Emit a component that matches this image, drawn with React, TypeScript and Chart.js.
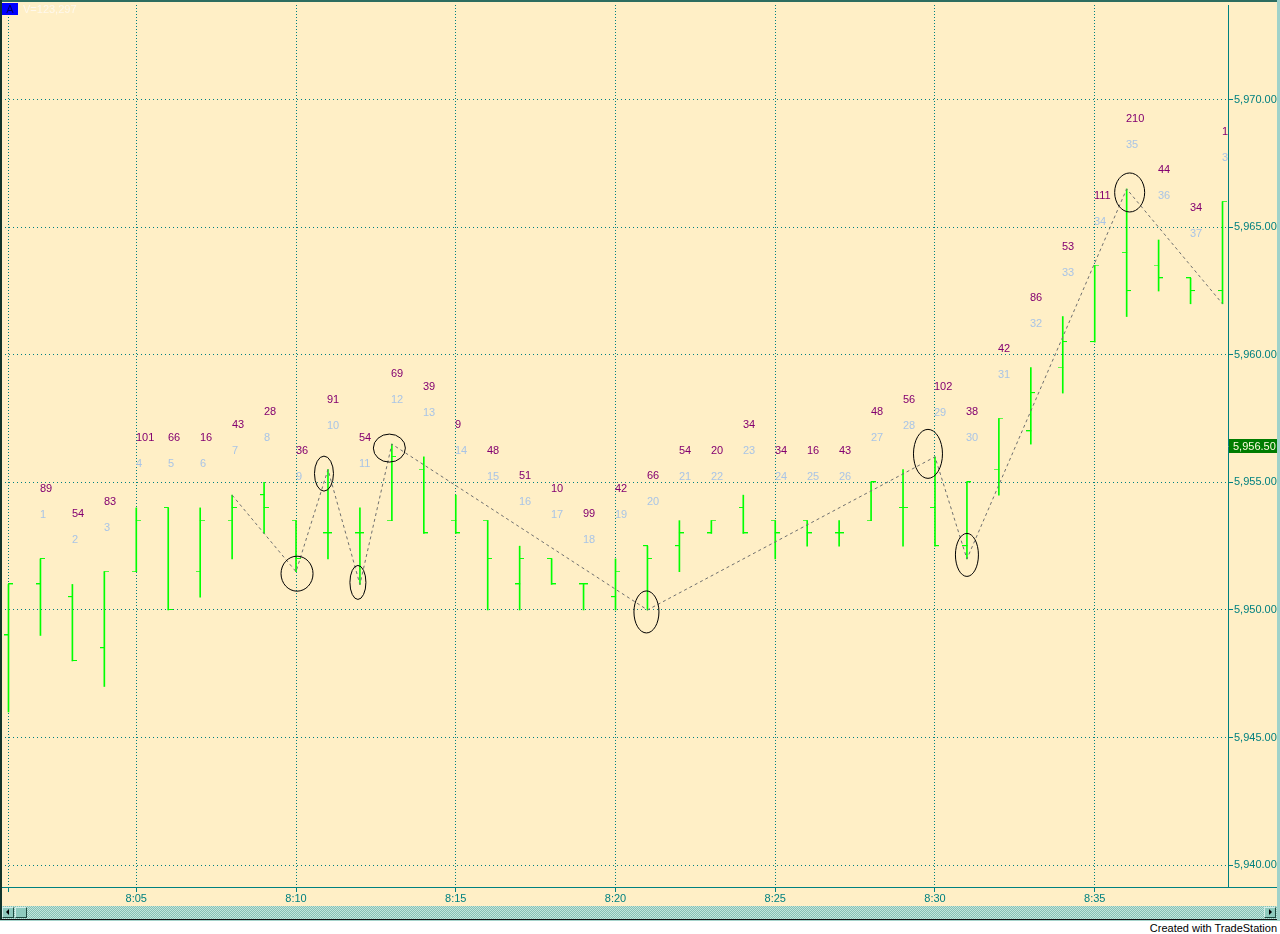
import React, { useEffect, useRef } from "react";
import { Chart, registerables } from "chart.js";

Chart.register(...registerables);

// ---------------- data ----------------
const times = [
  "8:01", "8:02", "8:03", "8:04", "8:05", "8:06", "8:07", "8:08", "8:09", "8:10",
  "8:11", "8:12", "8:13", "8:14", "8:15", "8:16", "8:17", "8:18", "8:19", "8:20",
  "8:21", "8:22", "8:23", "8:24", "8:25", "8:26", "8:27", "8:28", "8:29", "8:30",
  "8:31", "8:32", "8:33", "8:34", "8:35", "8:36", "8:37", "8:38", "8:39",
];
const opens = [
  5949.0, 5951.0, 5950.5, 5948.5, 5951.5, 5954.0, 5951.5, 5953.5, 5954.5, 5953.5,
  5953.0, 5953.0, 5953.5, 5955.5, 5953.5, 5953.5, 5951.0, 5952.0, 5951.0, 5950.5,
  5952.5, 5952.5, 5953.0, 5954.0, 5953.5, 5953.5, 5953.0, 5953.5, 5954.0, 5954.0,
  5952.5, 5955.5, 5957.0, 5959.5, 5960.5, 5964.0, 5963.5, 5963.0, 5962.5,
];
const highs = [
  5951.0, 5952.0, 5951.0, 5951.5, 5954.0, 5954.0, 5954.0, 5954.5, 5955.0, 5953.5,
  5955.5, 5954.0, 5956.5, 5956.0, 5954.5, 5953.5, 5952.5, 5952.0, 5951.0, 5952.0,
  5952.5, 5953.5, 5953.5, 5954.5, 5953.5, 5953.5, 5953.5, 5955.0, 5955.5, 5956.0,
  5955.0, 5957.5, 5959.5, 5961.5, 5963.5, 5966.5, 5964.5, 5963.0, 5966.0,
];
const lows = [
  5946.0, 5949.0, 5948.0, 5947.0, 5951.5, 5950.0, 5950.5, 5952.0, 5953.0, 5951.5,
  5952.0, 5951.0, 5953.5, 5953.0, 5953.0, 5950.0, 5950.0, 5951.0, 5950.0, 5950.0,
  5950.0, 5951.5, 5953.0, 5953.0, 5952.0, 5952.5, 5952.5, 5953.5, 5952.5, 5952.5,
  5952.0, 5954.5, 5956.5, 5958.5, 5960.5, 5961.5, 5962.5, 5962.0, 5962.0,
];
const closes = [
  5951.0, 5952.0, 5948.0, 5951.5, 5953.5, 5950.0, 5953.5, 5954.0, 5954.0, 5952.0,
  5953.0, 5953.0, 5956.0, 5953.0, 5953.0, 5952.0, 5952.0, 5951.0, 5951.0, 5951.5,
  5952.0, 5953.0, 5953.5, 5953.0, 5953.0, 5953.0, 5953.0, 5955.0, 5954.0, 5952.5,
  5955.0, 5957.5, 5958.5, 5960.5, 5963.5, 5962.5, 5963.0, 5962.5, 5966.0,
];
const volumeLabels = [
  null, "89", "54", "83", "101", "66", "16", "43", "28", "36",
  "91", "54", "69", "39", "9", "48", "51", "10", "99", "42",
  "66", "54", "20", "34", "34", "16", "43", "48", "56", "102",
  "38", "42", "86", "53", "111", "210", "44", "34", "128",
];
const barNumbers = [
  null, "1", "2", "3", "4", "5", "6", "7", "8", "9",
  "10", "11", "12", "13", "14", "15", "16", "17", "18", "19",
  "20", "21", "22", "23", "24", "25", "26", "27", "28", "29",
  "30", "31", "32", "33", "34", "35", "36", "37", "38",
];
const zigzagTimes = ["8:08", "8:10", "8:11", "8:12", "8:13", "8:21", "8:30", "8:31", "8:36", "8:39"];
const zigzagPrices = [5954.5, 5951.5, 5955.5, 5951.0, 5956.5, 5950.0, 5956.0, 5952.0, 5966.5, 5962.0];
const circledTimes = ["8:10", "8:11", "8:12", "8:13", "8:21", "8:30", "8:31", "8:36"];
const circledPrices = [5951.5, 5955.5, 5951.0, 5956.5, 5950.0, 5956.0, 5952.0, 5966.5];
const yTickValues = [5940, 5945, 5950, 5955, 5960, 5965, 5970];
const yTickLabels = ["5,940.00", "5,945.00", "5,950.00", "5,955.00", "5,960.00", "5,965.00", "5,970.00"];
const xTickTimes = ["8:01", "8:05", "8:10", "8:15", "8:20", "8:25", "8:30", "8:35"];
const xTickLabels = ["", "8:05", "8:10", "8:15", "8:20", "8:25", "8:30", "8:35"];
const lastPrice = 5956.5;
const lastPriceLabel = "5,956.50";
const symbolTag = "A";
const volumeTotal = "V=123,297";
const footerText = "Created with TradeStation";

// ---------------- styles ----------------
const CREAM = "#ffefc6";
const TEAL = "#008080";
const GREEN = "#00ff00";
const PURPLE = "#830070";
const LIGHTBLUE = "#a9c4e6";
const FONT_FAMILY = '"Liberation Sans", Arial, sans-serif';
const circleShapes = [
  { w: 32, h: 35, dx: 1, dy: 2 },
  { w: 19, h: 35, dx: -4, dy: 4 },
  { w: 16, h: 34, dx: -2, dy: -2 },
  { w: 32, h: 28, dx: -2.5, dy: 4 },
  { w: 25, h: 42, dx: -1, dy: 2 },
  { w: 29, h: 49, dx: -7, dy: -3 },
  { w: 23, h: 43, dx: 0, dy: -4 },
  { w: 30, h: 39, dx: 3, dy: 3.5 },
];

const toMin = (t: string) => {
  const [h, m] = t.split(":").map(Number);
  return (h - 8) * 60 + m;
};

// x: 32px per minute, 8:01 at 3.5px inside the plot; y: 25.6px per point, 5970 at 95px below the top
const X_MIN = 1 - 3.5 / 32;
const X_MAX = X_MIN + 1225 / 32;
const Y_MAX = 5970 + 95 / 25.6;
const Y_MIN = Y_MAX - 885 / 25.6;

function makeTick(side: "open" | "close") {
  const c = document.createElement("canvas");
  c.width = 9;
  c.height = 2;
  const g = c.getContext("2d")!;
  g.fillStyle = GREEN;
  if (side === "open") g.fillRect(0, 0, 5, 1);
  else g.fillRect(4, 0, 5, 1);
  return c;
}

const backgroundPlugin = {
  id: "bgFill",
  beforeDraw(chart: any) {
    const { ctx, width, height } = chart;
    ctx.save();
    ctx.fillStyle = CREAM;
    ctx.fillRect(0, 0, width, height);
    ctx.restore();
  },
};

const annotationPlugin = {
  id: "annotations",
  afterDatasetsDraw(chart: any) {
    const { ctx, chartArea, scales } = chart;
    const x = scales.x;
    const y = scales.y;
    ctx.save();
    ctx.beginPath();
    ctx.rect(chartArea.left, chartArea.top, chartArea.right - chartArea.left, chartArea.bottom - chartArea.top);
    ctx.clip();
    ctx.strokeStyle = "#000";
    ctx.lineWidth = 1;
    circledTimes.forEach((t, i) => {
      const s = circleShapes[i];
      const cx = x.getPixelForValue(toMin(t)) + s.dx;
      const cy = y.getPixelForValue(circledPrices[i]) + s.dy;
      ctx.beginPath();
      ctx.ellipse(cx, cy, s.w / 2, s.h / 2, 0, 0, Math.PI * 2);
      ctx.stroke();
    });
    ctx.font = `11px ${FONT_FAMILY}`;
    ctx.textAlign = "left";
    ctx.textBaseline = "middle";
    times.forEach((t, i) => {
      const v = volumeLabels[i];
      if (!v) return;
      const px = Math.floor(x.getPixelForValue(toMin(t)));
      const py = y.getPixelForValue(highs[i]);
      ctx.fillStyle = PURPLE;
      ctx.fillText(v, px, py - 70);
      ctx.fillStyle = LIGHTBLUE;
      ctx.fillText(barNumbers[i] as string, px, py - 44);
    });
    ctx.restore();
  },
  afterDraw(chart: any) {
    const { ctx, chartArea, scales, width } = chart;
    const y = scales.y;
    ctx.save();
    // extend x axis line under the price axis
    ctx.strokeStyle = TEAL;
    ctx.lineWidth = 1;
    ctx.beginPath();
    ctx.moveTo(2, Math.round(chartArea.bottom) + 0.5);
    ctx.lineTo(width - 3, Math.round(chartArea.bottom) + 0.5);
    ctx.stroke();
    // last price marker
    const ly = y.getPixelForValue(lastPrice);
    ctx.fillStyle = "#007c00";
    ctx.fillRect(chartArea.right + 1, Math.round(ly - 5), 48, 14);
    ctx.fillStyle = "#fffbe0";
    ctx.font = `11px ${FONT_FAMILY}`;
    ctx.textAlign = "left";
    ctx.textBaseline = "middle";
    ctx.fillText(lastPriceLabel, chartArea.right + 5, Math.round(ly - 5) + 7.5);
    // symbol tag + volume
    ctx.fillStyle = "#0000ff";
    ctx.fillRect(2, 3, 16, 12);
    ctx.fillStyle = "#000060";
    ctx.textAlign = "center";
    ctx.fillText(symbolTag, 10, 9.5);
    ctx.fillStyle = "#fff8ec";
    ctx.textAlign = "left";
    ctx.font = `11px ${FONT_FAMILY}`;
    ctx.fillText(volumeTotal, 23, 10);
    // frame
    ctx.fillStyle = "#2d6d60";
    ctx.fillRect(0, 0, width, 2);
    ctx.fillStyle = "#12342a";
    ctx.fillRect(0, 0, 2, chart.height);
    ctx.restore();
  },
};

export default function App() {
  const ref = useRef<HTMLCanvasElement>(null);

  useEffect(() => {
    document.body.style.margin = "0";
    const openImg = makeTick("open");
    const closeImg = makeTick("close");
    const font = { family: FONT_FAMILY, size: 11 };

    const chart = new Chart(ref.current as HTMLCanvasElement, {
      type: "bar",
      data: {
        datasets: [
          {
            type: "line",
            label: "zigzag",
            data: zigzagTimes.map((t, i) => ({ x: toMin(t), y: zigzagPrices[i] })),
            borderColor: "#6f6f6f",
            borderWidth: 1,
            borderDash: [3, 3],
            pointRadius: 0,
            fill: false,
            tension: 0,
            order: 0,
          } as any,
          {
            type: "scatter",
            label: "open",
            data: times.map((t, i) => ({ x: toMin(t), y: opens[i] })),
            pointStyle: openImg,
            pointRadius: 3,
            clip: false,
            order: 1,
          } as any,
          {
            type: "scatter",
            label: "close",
            data: times.map((t, i) => ({ x: toMin(t), y: closes[i] })),
            pointStyle: closeImg,
            pointRadius: 3,
            clip: false,
            order: 1,
          } as any,
          {
            type: "bar",
            label: "range",
            data: times.map((t, i) => ({ x: toMin(t), y: [lows[i], highs[i]] })),
            backgroundColor: GREEN,
            borderWidth: 0,
            barThickness: 1,
            order: 2,
          } as any,
        ],
      },
      options: {
        animation: false,
        responsive: false,
        devicePixelRatio: 1,
        events: [],
        layout: { padding: { left: 3, top: 2, right: 0, bottom: 0 } },
        plugins: { legend: { display: false }, tooltip: { enabled: false } },
        scales: {
          x: {
            type: "linear",
            position: "bottom",
            min: X_MIN,
            max: X_MAX,
            bounds: "data",
            offset: false,
            afterBuildTicks: (s: any) => {
              s.ticks = xTickTimes.map((t) => ({ value: toMin(t) }));
            },
            afterFit: (s: any) => {
              s.height = 19;
              s.paddingLeft = 0;
              s.paddingRight = 0;
            },
            ticks: {
              autoSkip: false,
              maxRotation: 0,
              minRotation: 0,
              padding: 0,
              color: TEAL,
              font,
              callback: (_v: any, i: number) => xTickLabels[i],
            },
            grid: {
              offset: false,
              color: TEAL,
              lineWidth: 1,
              tickLength: 5,
              tickColor: TEAL,
              tickBorderDash: [],
            },
            border: { display: true, color: TEAL, width: 1, dash: [1, 2] },
          } as any,
          y: {
            type: "linear",
            position: "right",
            min: Y_MIN,
            max: Y_MAX,
            bounds: "data",
            beginAtZero: false,
            afterBuildTicks: (s: any) => {
              s.ticks = yTickValues.map((v) => ({ value: v }));
            },
            afterFit: (s: any) => {
              s.width = 52;
              s.paddingTop = 0;
              s.paddingBottom = 0;
            },
            ticks: {
              padding: 1,
              color: TEAL,
              font,
              callback: (_v: any, i: number) => yTickLabels[i],
            },
            grid: {
              color: TEAL,
              lineWidth: 1,
              tickLength: 5,
              tickColor: TEAL,
              tickBorderDash: [],
            },
            border: { display: true, color: TEAL, width: 1, dash: [1, 3] },
          } as any,
        },
      } as any,
      plugins: [backgroundPlugin, annotationPlugin],
    });
    return () => chart.destroy();
  }, []);

  const btn: React.CSSProperties = {
    position: "absolute",
    top: 1,
    width: 10,
    height: 9,
    background: "#8ecabd",
    borderTop: "1px solid #d4eee8",
    borderLeft: "1px solid #d4eee8",
    borderRight: "1px solid #1f4a40",
    borderBottom: "1px solid #1f4a40",
  };

  return (
    <div
      style={{
        position: "relative",
        width: 1280,
        height: 934,
        background: "#ffffff",
        overflow: "hidden",
        fontFamily: FONT_FAMILY,
      }}
    >
      <canvas
        ref={ref}
        width={1280}
        height={906}
        style={{ position: "absolute", left: 0, top: 0, width: 1280, height: 906, display: "block" }}
      />
      {/* horizontal scrollbar */}
      <div
        style={{
          position: "absolute",
          left: 0,
          top: 906,
          width: 1277,
          height: 13,
          borderLeft: "2px solid #12342a",
          borderBottom: "1px solid #111",
          boxSizing: "content-box",
          background: "repeating-conic-gradient(#86c2b4 0% 25%, #c2e4dc 0% 50%) 0 0 / 2px 2px",
        }}
      >
        <div style={{ ...btn, left: 0 }}>
          <div
            style={{
              position: "absolute",
              left: 3,
              top: 1,
              width: 0,
              height: 0,
              borderTop: "3.5px solid transparent",
              borderBottom: "3.5px solid transparent",
              borderRight: "3px solid #000",
            }}
          />
        </div>
        <div style={{ ...btn, left: 13 }} />
        <div style={{ ...btn, left: 1262 }}>
          <div
            style={{
              position: "absolute",
              left: 4,
              top: 1,
              width: 0,
              height: 0,
              borderTop: "3.5px solid transparent",
              borderBottom: "3.5px solid transparent",
              borderLeft: "3px solid #000",
            }}
          />
        </div>
      </div>
      <div style={{ position: "absolute", left: 0, top: 920, width: 1280, height: 1, background: "#a6d4cc" }} />
      {/* right edge strip */}
      <div style={{ position: "absolute", left: 1277, top: 0, width: 3, height: 921, background: "#a0d2ca" }} />
      <div
        style={{
          position: "absolute",
          right: 3,
          top: 921,
          fontSize: 11,
          lineHeight: "14px",
          color: "#000",
          whiteSpace: "nowrap",
        }}
      >
        {footerText}
      </div>
    </div>
  );
}
